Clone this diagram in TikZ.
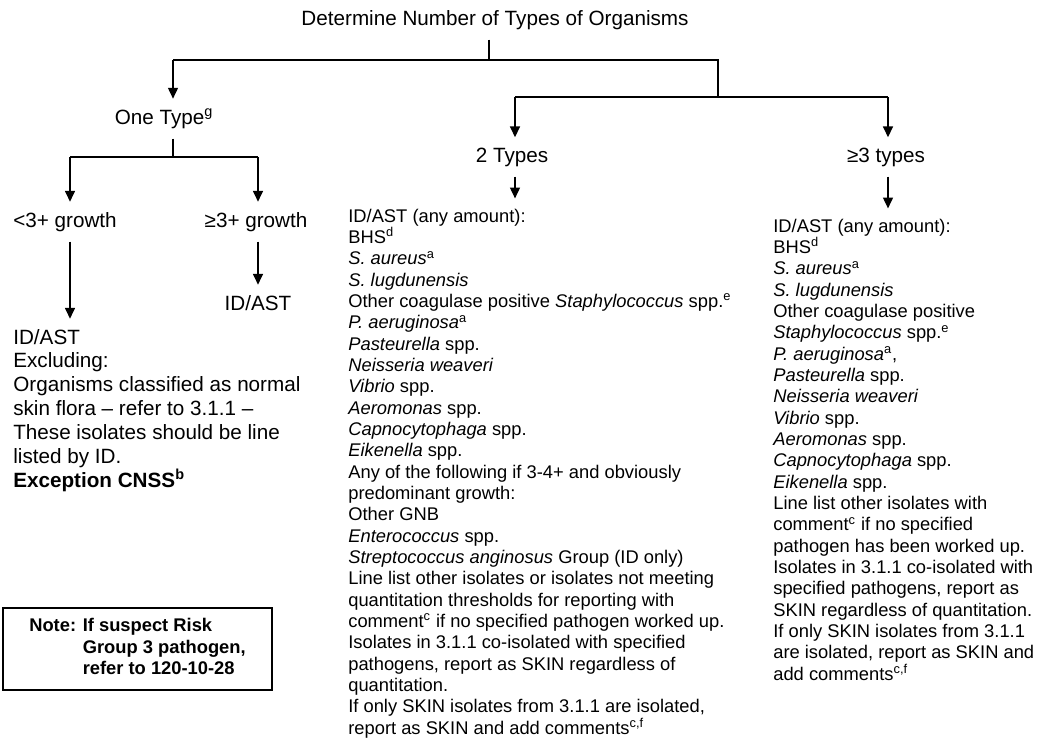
\documentclass[tikz,border=0pt]{standalone}
\usepackage{fontspec}
\setmainfont{Liberation Sans}
\usepackage{tikz}
\usetikzlibrary{arrows.meta, positioning}

\begin{document}
\begin{tikzpicture}[
  x=0.6pt, y=-0.6pt,
  lbl/.style={inner xsep=3pt, inner ysep=6pt,
    font=\fontsize{12.4}{14.3}\selectfont},
  biglist/.style={lbl, align=left, anchor=base west},
  list/.style={inner xsep=3pt, inner ysep=6pt, align=left,
    anchor=base west, font=\fontsize{11}{12.8}\selectfont},
  notebox/.style={draw, line width=1.3pt, align=left,
    minimum width=161.4pt, minimum height=49.2pt,
    font=\fontsize{11}{12.9}\selectfont\bfseries},
  ln/.style={line width=0.8pt},
  arr/.style={ln, -{Triangle[width=6pt, length=6.5pt]}}
]
\useasboundingbox (0,0) rectangle (1041,743);

\node[lbl, anchor=base] (title) at (495,25) {Determine Number of Types of Organisms};
\node[lbl, anchor=base] (onetype) at (164,124) {One Type\textsuperscript{g}};
\node[lbl, anchor=base] (twotypes) at (512,162) {2 Types};
\node[lbl, anchor=base] (many) at (886,162) {≥3 types};
\node[lbl, anchor=base west] (lowgrow) at (8,227) {<3+ growth};
\node[lbl, anchor=base] (highgrow) at (256,227) {≥3+ growth};
\node[lbl, anchor=base] (oneid) at (258,310) {ID/AST};

% multi-line nodes: base is the last line
\node[biglist] (onelist) at (8,487) {ID/AST\\
  Excluding:\\
  Organisms classified as normal\\
  skin flora – refer to 3.1.1 –\\
  These isolates should be line\\
  listed by ID.\\
  \textbf{Exception CNSS\textsuperscript{b}}};

\node[list] (twolist) at (343,734) {ID/AST (any amount):\\
  BHS\textsuperscript{d}\\
  \textit{S. aureus}\textsuperscript{a}\\
  \textit{S. lugdunensis}\\
  Other coagulase positive \textit{Staphylococcus} spp.\textsuperscript{e}\\
  \textit{P. aeruginosa}\textsuperscript{a}\\
  \textit{Pasteurella} spp.\\
  \textit{Neisseria weaveri}\\
  \textit{Vibrio} spp.\\
  \textit{Aeromonas} spp.\\
  \textit{Capnocytophaga} spp.\\
  \textit{Eikenella} spp.\\
  Any of the following if 3-4+ and obviously\\
  predominant growth:\\
  Other GNB\\
  \textit{Enterococcus} spp.\\
  \textit{Streptococcus anginosus} Group (ID only)\\
  Line list other isolates or isolates not meeting\\
  quantitation thresholds for reporting with\\
  comment\textsuperscript{c} if no specified pathogen worked up.\\
  Isolates in 3.1.1 co-isolated with specified\\
  pathogens, report as SKIN regardless of\\
  quantitation.\\
  If only SKIN isolates from 3.1.1 are isolated,\\
  report as SKIN and add comments\textsuperscript{c,f}};

\node[list] (manylist) at (768,680) {ID/AST (any amount):\\
  BHS\textsuperscript{d}\\
  \textit{S. aureus}\textsuperscript{a}\\
  \textit{S. lugdunensis}\\
  Other coagulase positive\\
  \textit{Staphylococcus} spp.\textsuperscript{e}\\
  \textit{P. aeruginosa}\textsuperscript{a},\\
  \textit{Pasteurella} spp.\\
  \textit{Neisseria weaveri}\\
  \textit{Vibrio} spp.\\
  \textit{Aeromonas} spp.\\
  \textit{Capnocytophaga} spp.\\
  \textit{Eikenella} spp.\\
  Line list other isolates with\\
  comment\textsuperscript{c} if no specified\\
  pathogen has been worked up.\\
  Isolates in 3.1.1 co-isolated with\\
  specified pathogens, report as\\
  SKIN regardless of quantitation.\\
  If only SKIN isolates from 3.1.1\\
  are isolated, report as SKIN and\\
  add comments\textsuperscript{c,f}};

\node[notebox] (note) at (137.5,649) {\begin{tabular}{@{}l@{\hspace{4pt}}l@{}}
  Note: & If suspect Risk\\
        & Group 3 pathogen,\\
        & refer to 120-10-28
  \end{tabular}};

\coordinate (j1) at (489,60);
\coordinate (j1l) at (173,60);
\coordinate (j1r) at (718,60);
\coordinate (j2) at (718,97);
\coordinate (j2l) at (515,97);
\coordinate (j2r) at (888,97);
\coordinate (j3) at (173,157);
\coordinate (j3l) at (70,157);
\coordinate (j3r) at (258,157);

\draw[ln] (j1 |- title.south) -- (j1);
\draw[ln] (j1l) -- (j1r) -- (j2);
\draw[arr] (j1l) -- (j1l |- onetype.north);
\draw[ln] (j2l) -- (j2r);
\draw[arr] (j2l) -- (j2l |- twotypes.north);
\draw[arr] (j2r) -- (j2r |- many.north);
\draw[ln] (j3 |- onetype.south) -- (j3);
\draw[ln] (j3l) -- (j3r);
\draw[arr] (j3l) -- (j3l |- lowgrow.north);
\draw[arr] (j3r) -- (j3r |- highgrow.north);
\draw[arr] (j3l |- lowgrow.south) -- (j3l |- onelist.north);
\draw[arr] (j3r |- highgrow.south) -- (j3r |- oneid.north);
\draw[arr] (j2l |- twotypes.south) -- (j2l |- twolist.north);
\draw[arr] (j2r |- many.south) -- (j2r |- manylist.north);

\end{tikzpicture}
\end{document}
